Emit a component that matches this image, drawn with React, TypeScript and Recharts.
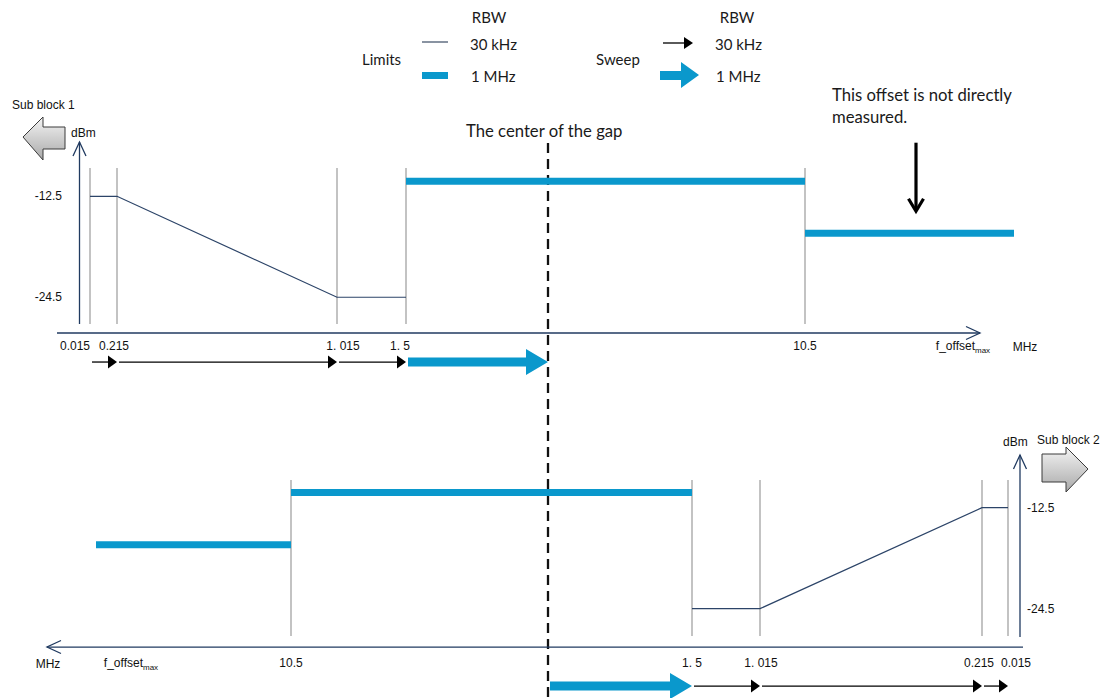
import { ComposedChart, Line, Scatter, XAxis, YAxis, ReferenceLine } from 'recharts';

// Offsets on the frequency axis of each sub block (MHz). The axis in the diagram is not to scale,
// so every offset also carries the place where the diagram draws it (axis runs roughly 0..100).
const offsets = ['0.015', '0.215', '1.015', '1.5', '10.5', 'f_offset_max'];
const offsetLabels = ['0.015', '0.215', '1. 015', '1. 5', '10.5', 'f_offset_max'];

const sb1Positions = [3.3, 6.0, 28.0, 34.9, 74.8, 95.7];
const sb2Positions = [1.5, 4.1, 26.3, 33.1, 73.2, 92.7];
const sb1LabelPositions = [1.8, 5.7, 28.6, 34.3, 74.8, 90.6];
const sb2LabelPositions = [0.7, 4.4, 26.2, 33.1, 73.2, 89.2];
const sb1GapCenter = 49.1;
const sb2GapCenter = 47.5;

// limits (dBm)
const limit30kHz = [-12.5, -12.5, -24.5, -24.5]; // at 0.015, 0.215, 1.015, 1.5
const limit1MHz = [-10.7, -16.9]; // 1.5 -> 10.5, 10.5 -> f_offset_max
const dbmTicks = [-12.5, -24.5];

// sweep steps
const sb1SweepFrom = ['0.015', '0.215', '1.015', '1.5'];
const sb1SweepTo = ['0.215', '1.015', '1.5', 'gap'];
const sb1SweepRbw = ['30 kHz', '30 kHz', '30 kHz', '1 MHz'];
const sb2SweepFrom = ['gap', '1.5', '1.015', '0.215'];
const sb2SweepTo = ['1.5', '1.015', '0.215', '0.015'];
const sb2SweepRbw = ['1 MHz', '30 kHz', '30 kHz', '30 kHz'];

const NAVY = '#203a60';
const LIMIT = '#2c4468';
const BLUE = '#0a98cc';
const GREY = '#b4b4b4';
const SANS = '"Liberation Sans", Arial, sans-serif';
const TEXT = 'Lato, "Open Sans", sans-serif';

type Kind = 'axis' | 'note' | 'thin' | 'thick';

// draws the arrow of a two point series at its last point, from the scaled points
function arrowDot(kind: Kind) {
  return (props: any) => {
    const { points, index } = props;
    const key = `arrow-${index}`;
    if (!points || index !== points.length - 1) return <g key={key} />;
    const a = points[0];
    const b = points[index];
    const dx = b.x - a.x;
    const dy = b.y - a.y;
    const len = Math.hypot(dx, dy) || 1;
    const ux = dx / len, uy = dy / len, nx = -uy, ny = ux;
    const px = (t: number, s: number) => [b.x - ux * t + nx * s, b.y - uy * t + ny * s];
    const pt = (t: number, s: number) => px(t, s).join(',');
    if (kind === 'axis') {
      return <polyline key={key} points={[pt(14, 6.5), pt(0, 0), pt(14, -6.5)].join(' ')} fill="none" stroke={NAVY} strokeWidth={1.3} />;
    }
    if (kind === 'note') {
      const s = px(len, 0), e = px(2, 0);
      return (
        <g key={key}>
          <line x1={s[0]} y1={s[1]} x2={e[0]} y2={e[1]} stroke="#000" strokeWidth={3.2} />
          <polyline points={[pt(14, 7.5), pt(1.5, 0), pt(14, -7.5)].join(' ')} fill="none" stroke="#000" strokeWidth={3.2} />
        </g>
      );
    }
    const L = len - 2;
    if (kind === 'thick') {
      return (
        <polygon key={key} fill={BLUE}
          points={[pt(L, 4.5), pt(22, 4.5), pt(22, 13), pt(0, 0), pt(22, -13), pt(22, -4.5), pt(L, -4.5)].join(' ')} />
      );
    }
    const s = px(L, 0), e = px(8, 0);
    return (
      <g key={key}>
        <line x1={s[0]} y1={s[1]} x2={e[0]} y2={e[1]} stroke="#000" strokeWidth={1.3} />
        <polygon points={[pt(9, 6.5), pt(0, 0), pt(9, -6.5)].join(' ')} fill="#000" />
      </g>
    );
  };
}

function LabelShape(props: any) {
  const { cx, cy, payload } = props;
  const common = { x: cx, y: cy, textAnchor: payload.anchor, dominantBaseline: 'central', fontFamily: SANS, fontSize: 12, fill: '#111' } as any;
  if (payload.text === 'f_offset_max') {
    return (
      <text {...common}>
        f_offset<tspan fontSize={8} dy={4}>max</tspan>
      </text>
    );
  }
  return <text {...common}>{payload.text}</text>;
}

type Layout = {
  positions: number[];
  labelPositions: number[];
  center: number;
  sweepFrom: string[];
  sweepTo: string[];
  sweepRbw: string[];
  margin: { top: number; right: number; bottom: number; left: number };
  xDomain: [number, number];
  yDomain: [number, number];
  reversed: boolean;
  yAxisX: number;
  yAxisSpan: [number, number];
  xAxisY: number;
  xAxisEnd: number;
  gridSpan: [number, number];
  labelLevel: number;
  mhzX: number;
  mhzLevel: number;
  dbmLabelX: number;
  dbmAnchor: string;
  sweepLevel: number;
  dashed?: [number, number];
  note?: { x: number; from: number; to: number };
};

const sb1: Layout = {
  positions: sb1Positions,
  labelPositions: sb1LabelPositions,
  center: sb1GapCenter,
  sweepFrom: sb1SweepFrom,
  sweepTo: sb1SweepTo,
  sweepRbw: sb1SweepRbw,
  margin: { top: 7, right: 8, bottom: 304, left: 7 },
  xDomain: [-5, 105],
  yDomain: [-36, 10],
  reversed: false,
  yAxisX: 2.25,
  yAxisSpan: [-27.68, -6.05],
  xAxisY: -28.75,
  xAxisEnd: 92.3,
  gridSpan: [-9.14, -27.68],
  labelLevel: -30.3,
  mhzX: 96.8,
  mhzLevel: -30.4,
  dbmLabelX: 0.5,
  dbmAnchor: 'end',
  sweepLevel: -32.2,
  dashed: [-6.17, -72.1],
  note: { x: 85.9, from: -6.13, to: -14.45 },
};

const sb2: Layout = {
  positions: sb2Positions,
  labelPositions: sb2LabelPositions,
  center: sb2GapCenter,
  sweepFrom: sb2SweepFrom,
  sweepTo: sb2SweepTo,
  sweepRbw: sb2SweepRbw,
  margin: { top: 310, right: 12, bottom: 1, left: 23 },
  xDomain: [-8, 100],
  yDomain: [-35, 11],
  reversed: true,
  yAxisX: 0.3,
  yAxisSpan: [-27.87, -6.23],
  xAxisY: -29.06,
  xAxisEnd: 97.6,
  gridSpan: [-9.2, -27.75],
  labelLevel: -30.9,
  mhzX: 97.5,
  mhzLevel: -31.08,
  dbmLabelX: -0.4,
  dbmAnchor: 'start',
  sweepLevel: -33.7,
};

function Panel({ p }: { p: Layout }) {
  const at = (k: string) => (k === 'gap' ? p.center : p.positions[offsets.indexOf(k)]);
  const thin = limit30kHz.map((v, i) => ({ x: p.positions[i], y: v }));
  const wideNear = [{ x: at('1.5'), y: limit1MHz[0] }, { x: at('10.5'), y: limit1MHz[0] }];
  const wideFar = [{ x: at('10.5'), y: limit1MHz[1] }, { x: at('f_offset_max'), y: limit1MHz[1] }];
  const labels = [
    ...offsetLabels.map((t, i) => ({ x: p.labelPositions[i], y: p.labelLevel, text: t, anchor: 'middle' })),
    { x: p.mhzX, y: p.mhzLevel, text: 'MHz', anchor: 'middle' },
    ...dbmTicks.map((v) => ({ x: p.dbmLabelX, y: v, text: String(v), anchor: p.dbmAnchor })),
  ];
  const gridAt = offsets.slice(0, 5).map(at);

  return (
    <ComposedChart width={1115} height={698} margin={p.margin}>
      <XAxis type="number" dataKey="x" domain={p.xDomain} reversed={p.reversed} hide />
      <YAxis type="number" dataKey="y" domain={p.yDomain} hide />
      {p.dashed && (
        <ReferenceLine
          segment={[{ x: p.center, y: p.dashed[0] }, { x: p.center, y: p.dashed[1] }]}
          stroke="#111" strokeWidth={2.3} strokeDasharray="10 6" ifOverflow="visible"
        />
      )}
      {gridAt.map((x, i) => (
        <Line key={`grid-${i}`} data={[{ x, y: p.gridSpan[0] }, { x, y: p.gridSpan[1] }]} dataKey="y"
          stroke={GREY} strokeWidth={1.6} dot={false} isAnimationActive={false} legendType="none" />
      ))}
      <Line data={[{ x: p.yAxisX, y: p.yAxisSpan[0] }, { x: p.yAxisX, y: p.yAxisSpan[1] }]} dataKey="y"
        stroke={NAVY} strokeWidth={1.3} dot={arrowDot('axis')} isAnimationActive={false} legendType="none" />
      <Line data={[{ x: 0, y: p.xAxisY }, { x: p.xAxisEnd, y: p.xAxisY }]} dataKey="y"
        stroke={NAVY} strokeWidth={1.3} dot={arrowDot('axis')} isAnimationActive={false} legendType="none" />
      <Line data={thin} dataKey="y" stroke={LIMIT} strokeWidth={1.2} dot={false} isAnimationActive={false} legendType="none" />
      <Line data={wideNear} dataKey="y" stroke={BLUE} strokeWidth={7} dot={false} isAnimationActive={false} legendType="none" />
      <Line data={wideFar} dataKey="y" stroke={BLUE} strokeWidth={7} dot={false} isAnimationActive={false} legendType="none" />
      {p.sweepFrom.map((f, i) => (
        <Line key={`sweep-${i}`} data={[{ x: at(f), y: p.sweepLevel }, { x: at(p.sweepTo[i]), y: p.sweepLevel }]} dataKey="y"
          stroke="none" dot={arrowDot(p.sweepRbw[i] === '1 MHz' ? 'thick' : 'thin')} isAnimationActive={false} legendType="none" />
      ))}
      {p.note && (
        <Line data={[{ x: p.note.x, y: p.note.from }, { x: p.note.x, y: p.note.to }]} dataKey="y"
          stroke="none" dot={arrowDot('note')} isAnimationActive={false} legendType="none" />
      )}
      <Scatter data={labels} dataKey="y" shape={LabelShape} isAnimationActive={false} legendType="none" />
    </ComposedChart>
  );
}

function Overlay() {
  const t = { fontFamily: TEXT, fontSize: 15, fill: '#1a1a1a', dominantBaseline: 'central' } as any;
  const n = { ...t, fontSize: 16.7 } as any;
  const s = { fontFamily: SANS, fontSize: 12, fill: '#111', dominantBaseline: 'central' } as any;
  return (
    <svg width={1115} height={698} style={{ position: 'absolute', left: 0, top: 0, pointerEvents: 'none' }}>
      <defs>
        <linearGradient id="blockFill" x1="0" y1="0" x2="0" y2="1">
          <stop offset="0" stopColor="#f4f4f4" />
          <stop offset="1" stopColor="#a9a9a9" />
        </linearGradient>
      </defs>
      {/* legend */}
      <text {...t} x={489} y={17} textAnchor="middle">RBW</text>
      <text {...t} x={362} y={59}>Limits</text>
      <line x1={422} y1={42} x2={448} y2={42} stroke="#56657a" strokeWidth={1.4} />
      <text {...t} x={470} y={44}>30 kHz</text>
      <rect x={422} y={72} width={26} height={7} fill={BLUE} />
      <text {...t} x={471} y={76}>1 MHz</text>
      <text {...t} x={596} y={59}>Sweep</text>
      <text {...t} x={737} y={17} textAnchor="middle">RBW</text>
      <line x1={663} y1={43} x2={685} y2={43} stroke="#000" strokeWidth={1.3} />
      <polygon points="684,37 693,43 684,49" fill="#000" />
      <text {...t} x={715} y={44}>30 kHz</text>
      <polygon points="660,71 681,71 681,62 699,75 681,88 681,80 660,80" fill={BLUE} />
      <text {...t} x={716} y={76}>1 MHz</text>
      {/* notes */}
      <text {...n} x={466} y={131}>The center of the gap</text>
      <text {...n} x={832} y={95}>This offset is not directly</text>
      <text {...n} x={832} y={117}>measured.</text>
      {/* sub block markers */}
      <text {...s} x={12} y={105}>Sub block 1</text>
      <text {...s} x={71} y={133}>dBm</text>
      <polygon points="23,137 43,117 43,127 65,127 65,149 43,149 43,160" fill="url(#blockFill)" stroke="#3a3a3a" strokeWidth={1} />
      <text {...s} x={1003} y={442}>dBm</text>
      <text {...s} x={1037} y={440}>Sub block 2</text>
      <polygon points="1088,469 1066,447 1066,454 1042,454 1042,482 1066,482 1066,492" fill="url(#blockFill)" stroke="#3a3a3a" strokeWidth={1} />
    </svg>
  );
}

export default function App() {
  return (
    <div style={{ position: 'fixed', left: 0, top: 0, width: 1115, height: 698, overflow: 'hidden', background: '#fff' }}>
      <div style={{ position: 'absolute', left: 0, top: 0 }}>
        <Panel p={sb1} />
      </div>
      <div style={{ position: 'absolute', left: 0, top: 0 }}>
        <Panel p={sb2} />
      </div>
      <Overlay />
    </div>
  );
}
